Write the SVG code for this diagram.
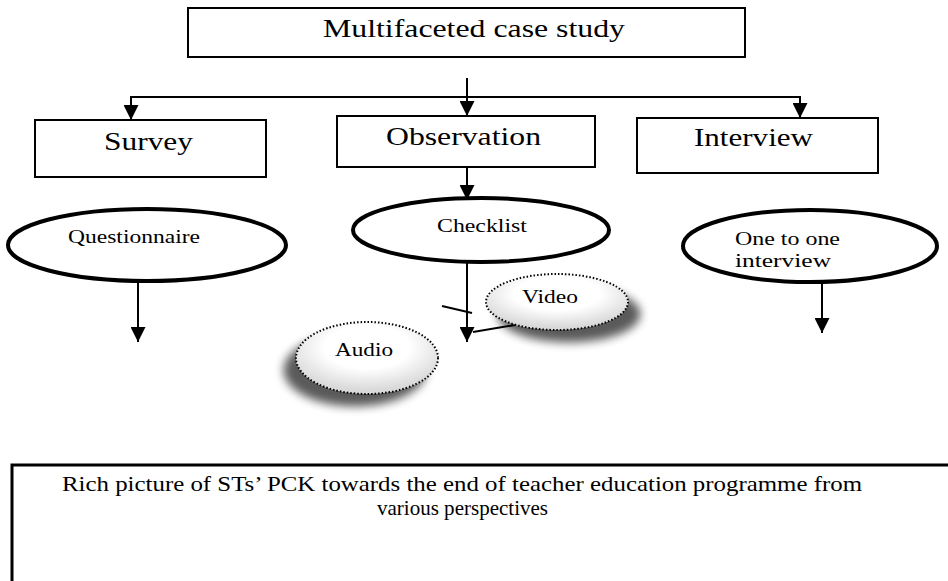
<svg xmlns="http://www.w3.org/2000/svg" width="948" height="581" viewBox="0 0 948 581">
<style>
.box{fill:#fff;stroke:#000;stroke-width:2}
.oval{fill:#fff;stroke:#000;stroke-width:4}
.dot{stroke:#000;stroke-width:2;stroke-dasharray:1.5 2}
.ln{fill:none;stroke:#000;stroke-width:2}
text{font-family:"Liberation Serif","Times New Roman",serif;fill:#000}
.t24{font-size:25px}
.t18{font-size:19px}
.t21{font-size:21px}
</style>
<defs>
<marker id="ah" viewBox="0 0 10 10" refX="10" refY="5" markerWidth="15" markerHeight="15" markerUnits="userSpaceOnUse" orient="auto">
<path d="M0,0 L10,5 L0,10 Z" fill="#000"/>
</marker>
<radialGradient id="g1" cx="0.5" cy="0.35" r="0.6">
<stop offset="0.5" stop-color="#fff"/>
<stop offset="1" stop-color="#d9d9d9"/>
</radialGradient>
<filter id="shR" x="-30%" y="-30%" width="170%" height="180%">
<feGaussianBlur in="SourceAlpha" stdDeviation="5"/>
<feOffset dx="12" dy="12" result="b"/>
<feComponentTransfer><feFuncA type="linear" slope="0.65"/></feComponentTransfer>
<feMerge><feMergeNode/><feMergeNode in="SourceGraphic"/></feMerge>
</filter>
<filter id="shL" x="-40%" y="-30%" width="170%" height="180%">
<feGaussianBlur in="SourceAlpha" stdDeviation="5"/>
<feOffset dx="-12" dy="12" result="b"/>
<feComponentTransfer><feFuncA type="linear" slope="0.65"/></feComponentTransfer>
<feMerge><feMergeNode/><feMergeNode in="SourceGraphic"/></feMerge>
</filter>
</defs>
<rect width="948" height="581" fill="#fff"/>

<g id="connectors">
<line class="ln" x1="467" y1="78" x2="467" y2="116" marker-end="url(#ah)"/>
<line class="ln" x1="130" y1="97" x2="801" y2="97"/>
<line class="ln" x1="131" y1="97" x2="131" y2="120" marker-end="url(#ah)"/>
<line class="ln" x1="800" y1="97" x2="800" y2="118" marker-end="url(#ah)"/>
<line class="ln" x1="467" y1="167" x2="467" y2="200" marker-end="url(#ah)"/>
<line class="ln" x1="138" y1="282" x2="138" y2="342" marker-end="url(#ah)"/>
<line class="ln" x1="467" y1="263" x2="467" y2="342" marker-end="url(#ah)"/>
<line class="ln" x1="442" y1="306" x2="472" y2="313"/>
<line class="ln" x1="515" y1="325" x2="473" y2="332"/>
<line class="ln" x1="822" y1="283" x2="822" y2="333" marker-end="url(#ah)"/>
</g>

<g id="n-case">
<rect class="box" x="188" y="8" width="557" height="49"/>
<text class="t24" x="323" y="37" textLength="302" lengthAdjust="spacingAndGlyphs">Multifaceted case study</text>
</g>
<g id="n-survey">
<rect class="box" x="35" y="120" width="231" height="57"/>
<text class="t24" x="104" y="150" textLength="89" lengthAdjust="spacingAndGlyphs">Survey</text>
</g>
<g id="n-observation">
<rect class="box" x="337" y="116" width="258" height="51"/>
<text class="t24" x="386" y="145" textLength="155" lengthAdjust="spacingAndGlyphs">Observation</text>
</g>
<g id="n-interview">
<rect class="box" x="637" y="118" width="241" height="55"/>
<text class="t24" x="694" y="146" textLength="119" lengthAdjust="spacingAndGlyphs">Interview</text>
</g>
<g id="n-questionnaire">
<ellipse class="oval" cx="147" cy="245" rx="139" ry="36"/>
<text class="t18" x="68" y="243" textLength="132" lengthAdjust="spacingAndGlyphs">Questionnaire</text>
</g>
<g id="n-checklist">
<ellipse class="oval" cx="481" cy="230" rx="128" ry="32"/>
<text class="t18" x="437" y="232" textLength="90" lengthAdjust="spacingAndGlyphs">Checklist</text>
</g>
<g id="n-onetoone">
<ellipse class="oval" cx="810" cy="246" rx="127" ry="36"/>
<text class="t18" x="735" y="245" textLength="105" lengthAdjust="spacingAndGlyphs">One to one</text>
<text class="t18" x="735" y="267" textLength="96" lengthAdjust="spacingAndGlyphs">interview</text>
</g>
<g id="n-video">
<ellipse class="dot" cx="557" cy="302" rx="71" ry="28" fill="url(#g1)" filter="url(#shR)"/>
<text class="t18" x="522" y="303" textLength="56" lengthAdjust="spacingAndGlyphs">Video</text>
</g>
<g id="n-audio">
<ellipse class="dot" cx="367" cy="358" rx="71" ry="36" fill="url(#g1)" filter="url(#shL)"/>
<text class="t18" x="335" y="356" textLength="58" lengthAdjust="spacingAndGlyphs">Audio</text>
</g>
<g id="n-rich">
<polyline fill="none" stroke="#000" stroke-width="3" points="12,581 12,465 950,465"/>
<text class="t21" x="62" y="491" textLength="800" lengthAdjust="spacingAndGlyphs">Rich picture of STs’ PCK towards the end of teacher education programme from</text>
<text class="t21" x="377" y="515" textLength="171" lengthAdjust="spacingAndGlyphs">various perspectives</text>
</g>
</svg>
